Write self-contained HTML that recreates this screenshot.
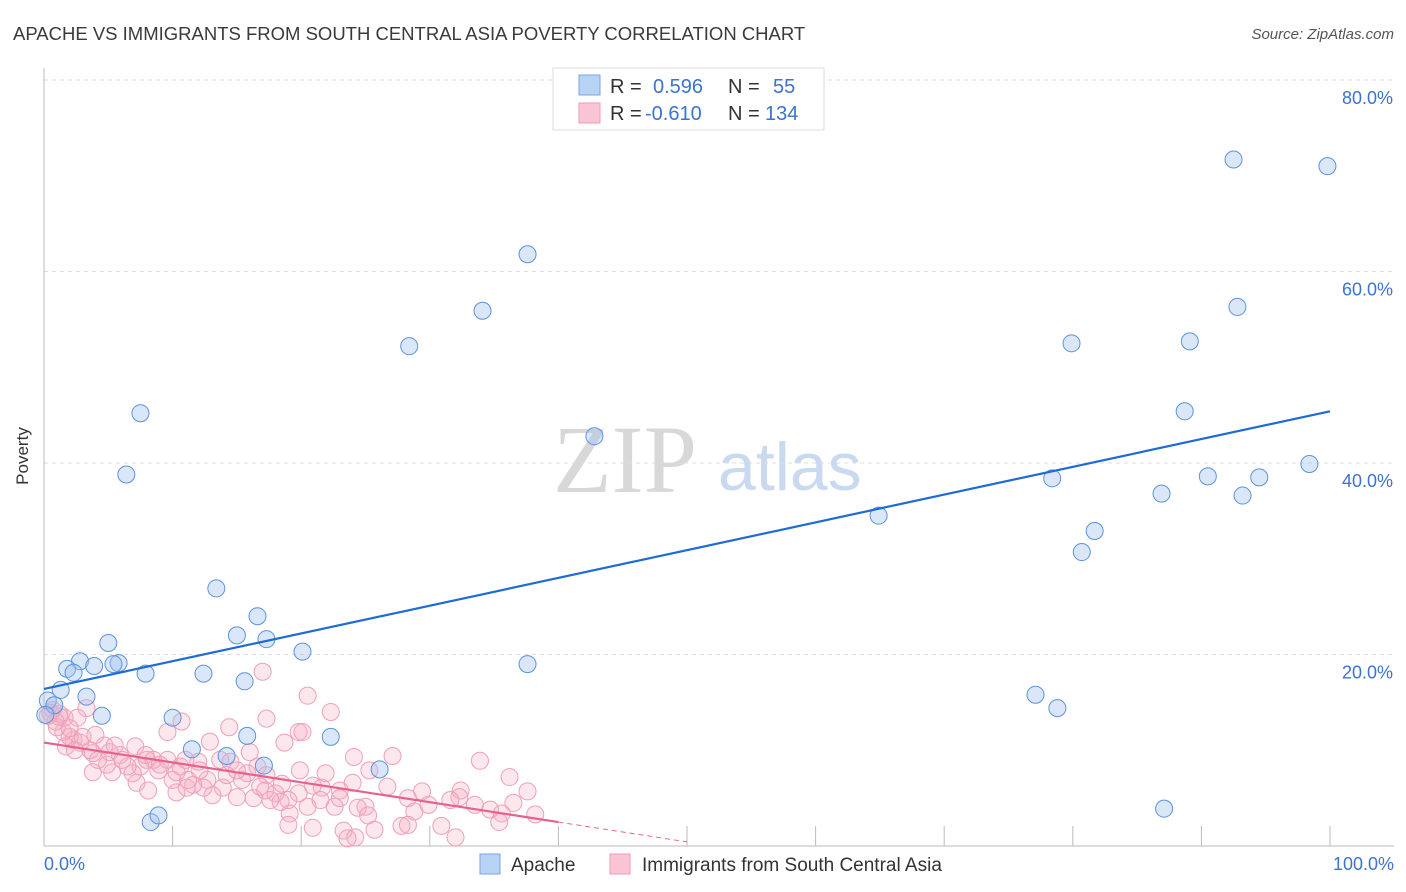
<!DOCTYPE html>
<html><head><meta charset="utf-8"><style>
body{margin:0;background:#fff;font-family:"Liberation Sans",sans-serif}
svg{display:block}
</style></head><body>
<svg id="chart" width="1406" height="892">
<text x="13" y="40" font-size="18.5" fill="#3a3a3a">APACHE VS IMMIGRANTS FROM SOUTH CENTRAL ASIA POVERTY CORRELATION CHART</text>
<text x="1394" y="39" font-size="15" font-style="italic" fill="#555" text-anchor="end">Source: ZipAtlas.com</text>
<g>
<text x="553" y="492" font-family="Liberation Serif,serif" font-size="96" fill="#d8d8d8">ZIP</text>
<text x="718" y="490" font-size="68" fill="#c9daf0">atlas</text>
</g>
<g id="grid"></g>
<g id="axes"></g>
<g id="pts"></g>
<g id="trend"></g>
<text x="28" y="456" font-size="17" fill="#333" text-anchor="middle" transform="rotate(-90 28 456)">Poverty</text>
<text x="44" y="870" font-size="18" fill="#3b73d0">0.0%</text>
<text x="1394" y="870" font-size="18" fill="#3b73d0" text-anchor="end">100.0%</text>
<g>
<rect x="553" y="68" width="271" height="62" fill="#fff" stroke="#ddd"/>
<rect x="579" y="75" width="21" height="20" fill="#b9d3f5" stroke="#7aa6e3"/>
<rect x="579" y="103" width="21" height="20" fill="#f9c5d4" stroke="#ee9ab4"/>
<text y="93" font-size="20"><tspan x="610" fill="#333">R =</tspan><tspan x="653" fill="#3b73d0">0.596</tspan><tspan x="728" fill="#333">N =</tspan><tspan x="773" fill="#3b73d0">55</tspan></text>
<text y="120" font-size="20"><tspan x="610" fill="#333">R =</tspan><tspan x="645" fill="#3b73d0">-0.610</tspan><tspan x="728" fill="#333">N =</tspan><tspan x="765" fill="#3b73d0">134</tspan></text>
</g>
<g>
<rect x="480" y="854" width="20" height="20" fill="#b9d3f5" stroke="#7aa6e3"/>
<text x="511" y="871" font-size="19" fill="#333">Apache</text>
<rect x="610" y="854" width="20" height="20" fill="#f9c5d4" stroke="#ee9ab4"/>
<text x="642" y="871" font-size="19" fill="#333">Immigrants from South Central Asia</text>
</g>
</svg>
<script>
const yTicks=[20,40,60,80];
const yTickLabels=["20.0%","40.0%","60.0%","80.0%"];
const xTicks=[0,10,20,30,40,50,60,70,80,90,100];
const apacheX=[7.5,6.4,13.4,16.6,15.0,17.3,5.0,2.8,5.8,5.4,1.8,3.9,2.3,7.9,12.4,15.6,20.1,1.3,3.3,0.3,0.8,4.5,10.0,15.8,22.3,11.5,14.2,17.1,26.1,8.3,8.9,28.4,34.1,37.6,42.8,37.6,64.9,92.5,99.8,92.8,79.9,89.1,88.7,98.4,78.4,90.5,94.5,86.9,93.2,81.7,80.7,77.1,78.8,87.1,0.1];
const apacheY=[45.2,38.8,26.9,24.0,22.0,21.6,21.2,19.3,19.1,19.0,18.5,18.8,18.1,18.0,18.0,17.2,20.3,16.3,15.6,15.2,14.7,13.6,13.4,11.5,11.4,10.1,9.4,8.4,8.0,2.5,3.2,52.2,55.9,61.8,42.8,19.0,34.5,71.7,71.0,56.3,52.5,52.7,45.4,39.9,38.4,38.6,38.5,36.8,36.6,32.9,30.7,15.8,14.4,3.9,13.7];
const immX=[17.0,20.5,22.3,10.7,9.6,14.4,17.3,19.8,20.1,18.7,3.3,24.1,27.1,33.9,36.2,37.6,38.2,34.7,35.6,35.4,36.5,32.4,32.3,30.9,32.0,29.4,28.8,29.9,28.3,27.8,26.7,25.3,25.0,24.4,25.2,23.3,24.2,23.6,20.9,24.0,23.0,22.6,21.6,20.9,20.5,19.8,19.0,19.1,19.0,18.0,18.4,17.6,17.3,16.6,16.3,16.8,15.4,15.8,15.0,13.9,14.2,13.7,14.5,13.1,12.7,12.4,11.6,11.1,11.2,10.3,10.0,10.6,12.0,9.6,8.9,8.5,8.0,7.5,7.2,6.9,6.5,5.9,5.3,4.9,4.7,3.8,3.8,3.6,2.8,2.3,2.0,3.0,2.6,1.5,1.0,1.2,0.7,0.5,1.2,1.6,0.3,0.9,2.0,1.7,2.4,4.2,5.1,6.1,7.1,8.1,10.3,11.0,12.9,15.0,16.0,18.5,19.9,21.9,23.0,25.7,28.3,9.0,5.5,4.0,7.9,12.1,17.2,21.5,31.6,33.5];
const immY=[18.2,15.7,14.0,13.0,11.9,12.4,13.3,11.9,11.9,10.8,14.4,9.3,9.4,8.9,7.2,5.7,3.3,3.8,3.4,2.5,4.5,5.8,5.1,2.1,0.9,5.7,3.6,4.3,5.0,2.1,6.2,7.9,4.1,4.0,3.2,1.6,0.9,0.8,1.9,6.6,5.8,4.1,6.1,6.3,4.1,5.5,4.8,3.4,2.2,5.5,4.6,4.8,7.4,8.3,5.0,6.2,6.9,7.6,5.1,6.1,7.4,9.0,8.8,5.3,6.9,6.1,6.4,6.1,6.9,5.6,6.9,8.3,8.8,9.0,7.9,9.0,9.0,8.3,6.6,7.6,8.3,9.5,7.7,8.5,10.5,7.7,9.7,10.0,10.8,11.1,11.4,11.4,13.4,11.9,12.4,13.5,14.2,13.9,13.8,13.4,13.6,13.0,12.3,10.4,10.0,9.0,9.8,9.0,10.4,5.8,7.7,9.0,10.9,7.9,9.8,6.5,7.9,7.6,5.0,1.7,2.2,8.5,10.5,11.6,9.5,7.9,5.8,4.8,4.8,4.3];
const apacheTrend=[0,16.4,100,45.4];
const immTrend=[0,10.8,40,2.5];
const immTrendDashEnd=50;

const X0=44,X1=1330,Y0=846,YPX=9.575;
const sx=v=>X0+(X1-X0)*v/100;
const sy=v=>Y0-v*YPX;
const NS="http://www.w3.org/2000/svg";
function mk(tag,attrs,parent){const e=document.createElementNS(NS,tag);for(const k in attrs)e.setAttribute(k,attrs[k]);parent.appendChild(e);return e;}
const grid=document.getElementById('grid'),axes=document.getElementById('axes'),pts=document.getElementById('pts'),trend=document.getElementById('trend');
yTicks.forEach((t,i)=>{
  const l=mk('line',{x1:44,x2:1394,y1:sy(t),y2:sy(t),stroke:'#ddd','stroke-dasharray':'4,4'},grid);
  
  
  const tx=mk('text',{x:1393,y:sy(t)+24,'font-size':18,fill:'#3b73d0','text-anchor':'end'},grid);
  tx.textContent=yTickLabels[i];
  
  
});
const ya=mk('line',{x1:44,x2:44,y1:68,y2:846,stroke:'#bbb'},axes);


const xa=mk('line',{x1:44,x2:1394,y1:846,y2:846,stroke:'#bbb'},axes);


xTicks.forEach(t=>{
  const l=mk('line',{x1:sx(t),x2:sx(t),y1:826,y2:846,stroke:'#bbb'},axes);
  
  
});
immX.forEach((x,i)=>{
  const c=mk('circle',{cx:sx(x),cy:sy(immY[i]),r:8.5,fill:'rgba(246,175,196,0.3)',stroke:'#efa0b8','stroke-width':1},pts);
  
  
});
apacheX.forEach((x,i)=>{
  const c=mk('circle',{cx:sx(x),cy:sy(apacheY[i]),r:8.5,fill:'rgba(160,195,240,0.4)',stroke:'#5e92dc','stroke-width':1},pts);
  
  
});
const at=mk('line',{x1:sx(apacheTrend[0]),y1:sy(apacheTrend[1]),x2:sx(apacheTrend[2]),y2:sy(apacheTrend[3]),stroke:'#1f6bd6','stroke-width':2.2},trend);


const it=mk('line',{x1:sx(immTrend[0]),y1:sy(immTrend[1]),x2:sx(immTrend[2]),y2:sy(immTrend[3]),stroke:'#e8608e','stroke-width':2.2},trend);


const slope=(immTrend[3]-immTrend[1])/(immTrend[2]-immTrend[0]);
const id=mk('line',{x1:sx(immTrend[2]),y1:sy(immTrend[3]),x2:sx(immTrendDashEnd),y2:sy(immTrend[1]+slope*immTrendDashEnd),stroke:'#e8608e','stroke-width':1,'stroke-dasharray':'5,4'},trend);


</script>
</body></html>
